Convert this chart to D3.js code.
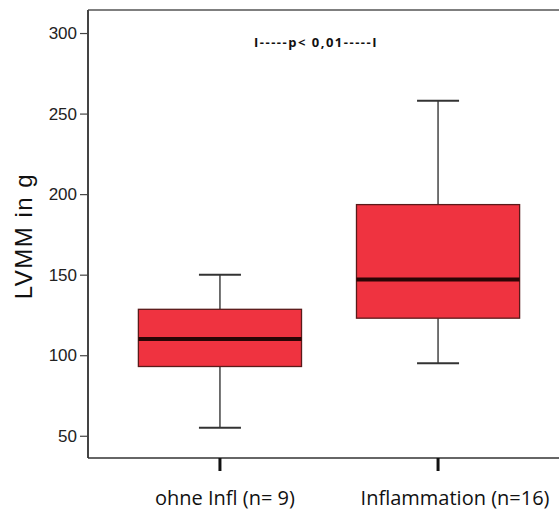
<!DOCTYPE html>
<html><head><meta charset="utf-8">
<script src="https://cdn.jsdelivr.net/npm/d3@7"></script>
<style>body{margin:0;background:#fff}svg{display:block}</style>
</head><body><svg id="c" width="559" height="510"></svg>
<script>
const categories = ["ohne Infl (n= 9)", "Inflammation (n=16)"];
const whiskerLow = [55, 95];
const q1 = [93, 123];
const median = [110, 147];
const q3 = [128.5, 193.5];
const whiskerHigh = [150, 258];
const yTicks = [50, 100, 150, 200, 250, 300];
const yLabel = "LVMM in g";
const annotation = "I-----p< 0,01-----I";

(function () {
const svg = d3.select("#c");
const pl = 88, pt = 10, pr = 559, pb = 458;
const y = d3.scaleLinear().domain([36.2, 314.3]).range([pb, pt]);
const x = d3.scaleBand().domain(categories).range([pl, 570]).paddingInner(0.252).paddingOuter(0.231);

// frame top
svg.append("line").attr("x1", pl).attr("x2", pr).attr("y1", pt).attr("y2", pt).attr("stroke", "#555").attr("stroke-width", 1.5);

// y axis
const ya = svg.append("g").attr("transform", `translate(${pl},0)`)
  .call(d3.axisLeft(y).tickValues(yTicks).tickSize(8).tickPadding(3));
ya.select(".domain").attr("stroke", "#444").attr("stroke-width", 2).attr("d", `M0,${pt}V${pb}`);
ya.selectAll(".tick line").attr("stroke", "#444").attr("stroke-width", 1.2);
ya.selectAll(".tick text").attr("font-family", "Liberation Sans, Arial, sans-serif").attr("font-size", 17).attr("fill", "#222");

// x axis
const xa = svg.append("g").attr("transform", `translate(0,${pb})`)
  .call(d3.axisBottom(x).tickSize(13).tickPadding(19.5));
xa.select(".domain").attr("stroke", "#333").attr("stroke-width", 1.5).attr("d", `M${pl},0H${pr}`);
xa.selectAll(".tick line").attr("stroke", "#111").attr("stroke-width", 3);
xa.selectAll(".tick text").attr("font-family", "Open Sans, sans-serif").attr("font-size", 20).attr("fill", "#111").attr("dx", (d, i) => i ? 17 : 5);

// boxes
const bw = x.bandwidth();
categories.forEach((c, i) => {
  const cx = x(c) + bw / 2;
  const g = svg.append("g");
  g.append("line").attr("x1", cx).attr("x2", cx).attr("y1", y(whiskerHigh[i])).attr("y2", y(q3[i])).attr("stroke", "#444").attr("stroke-width", 1.5);
  g.append("line").attr("x1", cx).attr("x2", cx).attr("y1", y(q1[i])).attr("y2", y(whiskerLow[i])).attr("stroke", "#444").attr("stroke-width", 1.5);
  [whiskerHigh[i], whiskerLow[i]].forEach(v => {
    g.append("line").attr("x1", cx - 21).attr("x2", cx + 21).attr("y1", y(v)).attr("y2", y(v)).attr("stroke", "#333").attr("stroke-width", 2);
  });
  g.append("rect").attr("x", x(c)).attr("width", bw).attr("y", y(q3[i])).attr("height", y(q1[i]) - y(q3[i]))
    .attr("fill", "#ef3340").attr("stroke", "#5a1a1a").attr("stroke-width", 1.3);
  g.append("line").attr("x1", x(c)).attr("x2", x(c) + bw).attr("y1", y(median[i])).attr("y2", y(median[i])).attr("stroke", "#2a0505").attr("stroke-width", 4);
});

// y label
svg.append("text").attr("transform", "translate(32,236) rotate(-90)").attr("text-anchor", "middle")
  .attr("font-family", "Liberation Sans, Arial, sans-serif").attr("font-size", 24).attr("letter-spacing", 1.5).attr("fill", "#111").text(yLabel);

// annotation
svg.append("text").attr("x", 316).attr("y", 47).attr("text-anchor", "middle")
  .attr("font-family", "Open Sans, sans-serif").attr("font-weight", "bold").attr("font-size", 13).attr("letter-spacing", 1.5).attr("fill", "#111").text(annotation);
})();
</script></body></html>
